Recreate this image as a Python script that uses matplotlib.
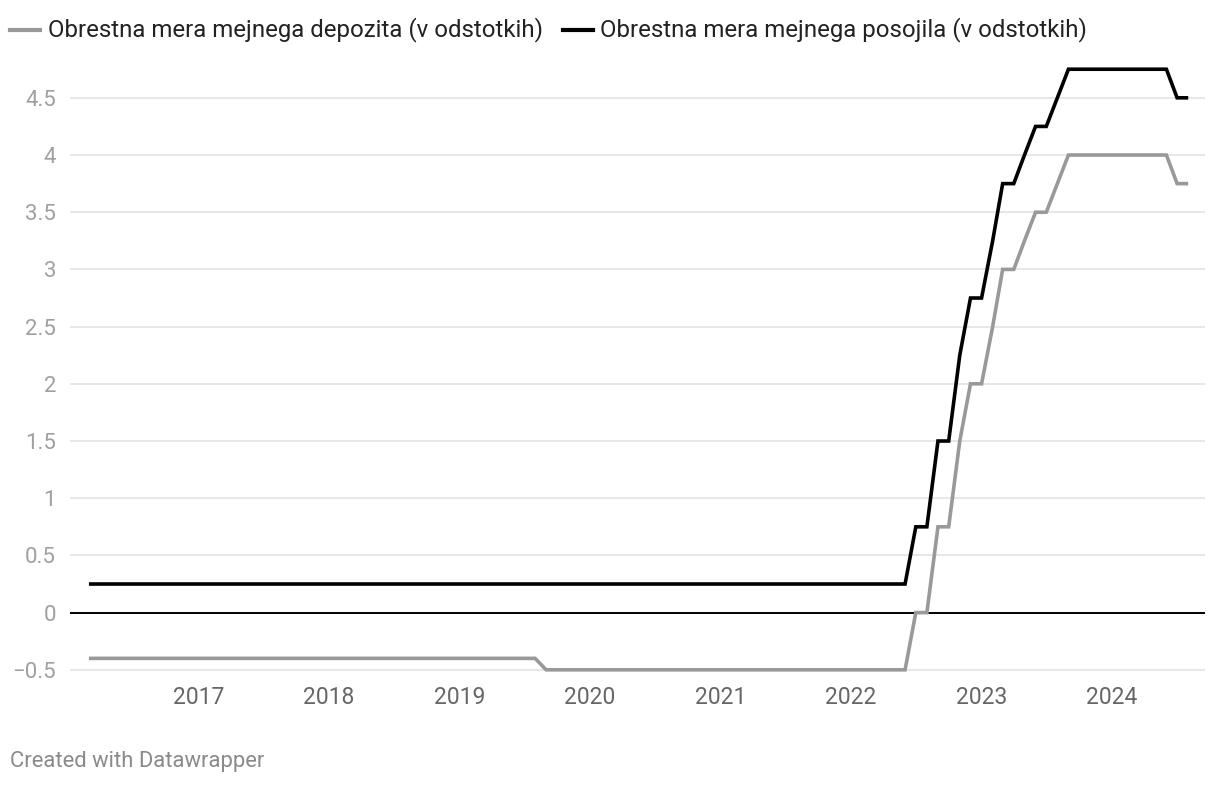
import matplotlib
matplotlib.use("Agg")
import matplotlib.pyplot as plt
import matplotlib.dates as mdates
import pandas as pd

plt.rcParams['font.family'] = ['Roboto', 'DejaVu Sans']

# Monthly dates from March 2016 to August 2024
start_month = "2016-03-01"
end_month = "2024-08-01"

# Deposit facility rate (%), one value per month
deposit_2016 = [-0.4, -0.4, -0.4, -0.4, -0.4, -0.4, -0.4, -0.4, -0.4, -0.4]
deposit_2017 = [-0.4, -0.4, -0.4, -0.4, -0.4, -0.4, -0.4, -0.4, -0.4, -0.4, -0.4, -0.4]
deposit_2018 = [-0.4, -0.4, -0.4, -0.4, -0.4, -0.4, -0.4, -0.4, -0.4, -0.4, -0.4, -0.4]
deposit_2019 = [-0.4, -0.4, -0.4, -0.4, -0.4, -0.4, -0.4, -0.4, -0.5, -0.5, -0.5, -0.5]
deposit_2020 = [-0.5, -0.5, -0.5, -0.5, -0.5, -0.5, -0.5, -0.5, -0.5, -0.5, -0.5, -0.5]
deposit_2021 = [-0.5, -0.5, -0.5, -0.5, -0.5, -0.5, -0.5, -0.5, -0.5, -0.5, -0.5, -0.5]
deposit_2022 = [-0.5, -0.5, -0.5, -0.5, -0.5, -0.5, 0.0, 0.0, 0.75, 0.75, 1.5, 2.0]
deposit_2023 = [2.0, 2.5, 3.0, 3.0, 3.25, 3.5, 3.5, 3.75, 4.0, 4.0, 4.0, 4.0]
deposit_2024 = [4.0, 4.0, 4.0, 4.0, 4.0, 4.0, 3.75, 3.75]

# Marginal lending facility rate (%), one value per month
lending_2016 = [0.25, 0.25, 0.25, 0.25, 0.25, 0.25, 0.25, 0.25, 0.25, 0.25]
lending_2017 = [0.25, 0.25, 0.25, 0.25, 0.25, 0.25, 0.25, 0.25, 0.25, 0.25, 0.25, 0.25]
lending_2018 = [0.25, 0.25, 0.25, 0.25, 0.25, 0.25, 0.25, 0.25, 0.25, 0.25, 0.25, 0.25]
lending_2019 = [0.25, 0.25, 0.25, 0.25, 0.25, 0.25, 0.25, 0.25, 0.25, 0.25, 0.25, 0.25]
lending_2020 = [0.25, 0.25, 0.25, 0.25, 0.25, 0.25, 0.25, 0.25, 0.25, 0.25, 0.25, 0.25]
lending_2021 = [0.25, 0.25, 0.25, 0.25, 0.25, 0.25, 0.25, 0.25, 0.25, 0.25, 0.25, 0.25]
lending_2022 = [0.25, 0.25, 0.25, 0.25, 0.25, 0.25, 0.75, 0.75, 1.5, 1.5, 2.25, 2.75]
lending_2023 = [2.75, 3.25, 3.75, 3.75, 4.0, 4.25, 4.25, 4.5, 4.75, 4.75, 4.75, 4.75]
lending_2024 = [4.75, 4.75, 4.75, 4.75, 4.75, 4.75, 4.5, 4.5]

deposit = (deposit_2016 + deposit_2017 + deposit_2018 + deposit_2019 + deposit_2020
           + deposit_2021 + deposit_2022 + deposit_2023 + deposit_2024)
lending = (lending_2016 + lending_2017 + lending_2018 + lending_2019 + lending_2020
           + lending_2021 + lending_2022 + lending_2023 + lending_2024)

series_labels = ["Obrestna mera mejnega depozita (v odstotkih)",
                 "Obrestna mera mejnega posojila (v odstotkih)"]
series_colors = ["#999999", "#000000"]

y_ticks = [-0.5, 0, 0.5, 1, 1.5, 2, 2.5, 3, 3.5, 4, 4.5]
y_tick_labels = ["\u22120.5", "0", "0.5", "1", "1.5", "2", "2.5", "3", "3.5", "4", "4.5"]
x_years = [2017, 2018, 2019, 2020, 2021, 2022, 2023, 2024]

dates = pd.date_range(start_month, end_month, freq="MS")

W, H = 1220, 786
fig = plt.figure(figsize=(W / 100, H / 100), dpi=100)
fig.patch.set_facecolor("white")

ax_left, ax_right = 70, 1205
ax_top, ax_bottom = 63.5, 672.1
ax = fig.add_axes([ax_left / W, 1 - ax_bottom / H,
                   (ax_right - ax_left) / W, (ax_bottom - ax_top) / H])
ax.set_ylim(-0.52, 4.8)
ax.set_xlim(mdates.date2num(pd.Timestamp("2016-01-08")),
            mdates.date2num(pd.Timestamp("2024-09-17")))

for y in y_ticks:
    if y == 0:
        ax.axhline(0, color="#000000", lw=1.4, zorder=2)
    else:
        ax.axhline(y, color="#e3e3e3", lw=1.2, zorder=1)

ax.plot(dates, deposit, color=series_colors[0], lw=2.6, solid_capstyle="butt",
        solid_joinstyle="miter", zorder=3)
ax.plot(dates, lending, color=series_colors[1], lw=2.6, solid_capstyle="butt",
        solid_joinstyle="miter", zorder=4)

ax.set_yticks(y_ticks)
ax.set_yticklabels(y_tick_labels, color="#a0a0a0", fontsize=16)
ax.tick_params(axis="y", length=0, pad=10)

ax.set_xticks([mdates.date2num(pd.Timestamp(f"{yr}-01-01")) for yr in x_years])
ax.set_xticklabels([str(yr) for yr in x_years], color="#666666", fontsize=16.5)
ax.tick_params(axis="x", length=0, pad=10)

for s in ax.spines.values():
    s.set_visible(False)
ax.set_facecolor("none")

# Legend
fy = 1 - 30 / H
fig.add_artist(plt.Line2D([10 / W, 40 / W], [fy, fy], color=series_colors[0], lw=3.0,
                          transform=fig.transFigure))
fig.text(48 / W, fy, series_labels[0], fontsize=17.3, color="#222222",
         va="center", ha="left")
fig.add_artist(plt.Line2D([563 / W, 593 / W], [fy, fy], color=series_colors[1], lw=3.0,
                          transform=fig.transFigure))
fig.text(600 / W, fy, series_labels[1], fontsize=17.3, color="#222222",
         va="center", ha="left")

fig.text(10 / W, 1 - 762 / H, "Created with Datawrapper", fontsize=15.8,
         color="#8a8a8a", va="center", ha="left")

fig.savefig("out.png", dpi=100, facecolor="white")
